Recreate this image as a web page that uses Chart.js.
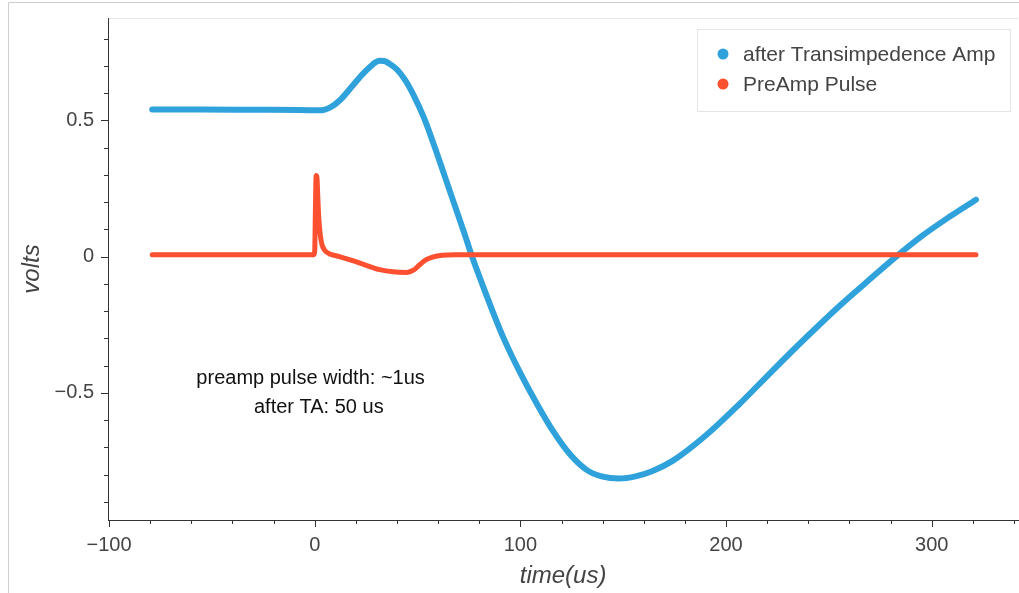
<!DOCTYPE html>
<html>
<head>
<meta charset="utf-8">
<title>Pulse shapes</title>
<script src="https://cdn.jsdelivr.net/npm/chart.js@4"></script>
<style>
  html, body { margin: 0; padding: 0; background: #fff; }
  #wrap { width: 1019px; height: 593px; position: relative; }
</style>
</head>
<body>
<div id="wrap"><canvas id="pulses"></canvas></div>
<script>
// readings: time in us, amplitude in volts
const timeTA = [-79, -55, -30, -7, 2.4, 8, 12.1, 18.5, 23.3, 27.5, 29.5, 31.6, 33.8, 36, 40, 44, 48, 53, 58, 63, 68, 73, 76.5,
  82, 87, 92, 100, 108, 116, 124, 132, 140, 148, 156, 164, 174, 190.4, 206.4, 222.4, 238.9,
  255.0, 271.0, 282.7, 295.3, 308.4, 321.5];
const voltsTA = [0.540, 0.540, 0.539, 0.538, 0.537, 0.550, 0.573, 0.628, 0.670, 0.701, 0.713, 0.719, 0.718, 0.710, 0.687, 0.648, 0.594, 0.512, 0.410, 0.300, 0.190, 0.080, 0.0,
  -0.112, -0.210, -0.302, -0.428, -0.540, -0.642, -0.725, -0.782, -0.808, -0.815, -0.807, -0.788, -0.750, -0.655, -0.542, -0.420, -0.297,
  -0.182, -0.076, 0.0, 0.076, 0.145, 0.209];

const timePre = [-79, -40, -0.4, 0, 0.3, 0.7, 1.1, 1.5, 2.0, 2.7, 3.5, 5, 7.3, 12, 18.5, 25, 31.6, 38, 44.7, 48, 51, 54, 57.3, 62, 68, 100, 200, 321.5];
const voltsPre = [0.007, 0.007, 0.007, 0.02, 0.15, 0.298, 0.29, 0.22, 0.14, 0.08, 0.045, 0.022, 0.010, 0.0, -0.015, -0.032, -0.048, -0.056, -0.058, -0.050, -0.030, -0.012, -0.002, 0.005, 0.007, 0.007, 0.007, 0.007];

const seriesNames = ['after Transimpedence Amp', 'PreAmp Pulse'];
const seriesColors = ['#2fa1db', '#fd5030'];

const noteLines = ['preamp pulse width: ~1us', 'after TA: 50 us'];
const noteX = [-2, 2];
const noteY = [-0.449, -0.555];

const FONT = '"Liberation Sans", Helvetica, Arial, sans-serif';
const INK = '#444';

function toPoints(xs, ys) {
  return xs.map((x, i) => ({ x: x, y: ys[i] }));
}

const isMajor = (v, step) => Math.abs(v / step - Math.round(v / step)) < 1e-6;
const fmt = (v) => {
  const s = String(Math.round(v * 1000) / 1000);
  return s.replace('-', '\u2212');
};

// frame, ticks, legend box and note text
const decorations = {
  id: 'decorations',
  beforeDraw(chart) {
    const { ctx, chartArea: a } = chart;
    ctx.save();
    ctx.strokeStyle = '#cfcfcf';
    ctx.lineWidth = 1;
    ctx.beginPath();
    ctx.moveTo(8.5, 593);
    ctx.lineTo(8.5, 2.5);
    ctx.lineTo(1019, 2.5);
    ctx.stroke();
    ctx.strokeStyle = '#e5e5e5';
    ctx.beginPath();
    ctx.moveTo(a.left, a.top + 0.5);
    ctx.lineTo(a.right, a.top + 0.5);
    ctx.stroke();
    ctx.restore();
  },
  afterDraw(chart) {
    const { ctx, chartArea: a } = chart;
    const xs = chart.scales.x, ys = chart.scales.y;
    ctx.save();
    ctx.strokeStyle = '#333';
    ctx.lineWidth = 1;
    ctx.beginPath();
    xs.ticks.forEach(t => {
      const px = Math.round(xs.getPixelForValue(t.value)) + 0.5;
      const len = isMajor(t.value, 100) ? 7 : 4;
      ctx.moveTo(px, a.bottom);
      ctx.lineTo(px, a.bottom + len);
    });
    ys.ticks.forEach(t => {
      const py = Math.round(ys.getPixelForValue(t.value)) + 0.5;
      const len = isMajor(t.value, 0.5) ? 7 : 4;
      ctx.moveTo(a.left, py);
      ctx.lineTo(a.left - len, py);
    });
    ctx.stroke();

    // legend
    ctx.fillStyle = '#fff';
    ctx.strokeStyle = '#e5e5e5';
    ctx.fillRect(697, 29, 313, 82);
    ctx.strokeRect(697.5, 29.5, 313, 82);
    ctx.font = '21px ' + FONT;
    ctx.textBaseline = 'middle';
    ctx.textAlign = 'left';
    seriesNames.forEach((name, i) => {
      const cy = 54 + i * 30;
      ctx.fillStyle = seriesColors[i];
      ctx.beginPath();
      ctx.arc(723, cy, 5.5, 0, Math.PI * 2);
      ctx.fill();
      ctx.fillStyle = INK;
      ctx.fillText(name, 743, cy + 1);
    });

    // note
    ctx.font = '20px ' + FONT;
    ctx.fillStyle = '#111';
    ctx.textAlign = 'center';
    noteLines.forEach((line, i) => {
      ctx.fillText(line, xs.getPixelForValue(noteX[i]), ys.getPixelForValue(noteY[i]));
    });
    ctx.restore();
  }
};

new Chart(document.getElementById('pulses'), {
  type: 'scatter',
  data: {
    datasets: [
      {
        label: seriesNames[0],
        data: toPoints(timeTA, voltsTA),
        borderColor: seriesColors[0],
        backgroundColor: seriesColors[0],
        borderWidth: 6,
        order: 1
      },
      {
        label: seriesNames[1],
        data: toPoints(timePre, voltsPre),
        borderColor: seriesColors[1],
        backgroundColor: seriesColors[1],
        borderWidth: 5,
        order: 0
      }
    ]
  },
  options: {
    responsive: true,
    maintainAspectRatio: false,
    animation: false,
    layout: { padding: { top: 15, right: 0, left: 0, bottom: 0 } },
    datasets: {
      scatter: {
        showLine: true,
        pointRadius: 0,
        pointHoverRadius: 0,
        cubicInterpolationMode: 'monotone',
        borderCapStyle: 'round',
        borderJoinStyle: 'round'
      }
    },
    plugins: {
      legend: { display: false },
      tooltip: { enabled: false }
    },
    scales: {
      x: {
        type: 'linear',
        min: -100.5,
        max: 342,
        afterFit(scale) { scale.height = 73; },
        grid: { display: true, drawOnChartArea: false, tickLength: 8, tickColor: 'rgba(0,0,0,0)' },
        border: { display: true, color: '#333', width: 1 },
        ticks: {
          stepSize: 20,
          includeBounds: false,
          autoSkip: false,
          maxRotation: 0,
          padding: 5,
          color: INK,
          font: { family: FONT, size: 20 },
          callback: (v) => isMajor(v, 100) ? fmt(v) : ''
        },
        title: {
          display: true,
          text: 'time(us)',
          color: INK,
          font: { family: FONT, size: 24, style: 'italic' },
          padding: { top: 0, bottom: 2 }
        }
      },
      y: {
        type: 'linear',
        min: -0.967,
        max: 0.876,
        afterFit(scale) { scale.width = 108; },
        grid: { display: true, drawOnChartArea: false, tickLength: 8, tickColor: 'rgba(0,0,0,0)' },
        border: { display: true, color: '#333', width: 1 },
        ticks: {
          stepSize: 0.1,
          includeBounds: false,
          autoSkip: false,
          padding: 6,
          color: INK,
          font: { family: FONT, size: 20 },
          callback: (v) => isMajor(v, 0.5) ? fmt(v) : ''
        },
        title: {
          display: true,
          text: 'volts',
          color: INK,
          font: { family: FONT, size: 24, style: 'italic' },
          padding: { top: 18, bottom: 0 }
        }
      }
    }
  },
  plugins: [decorations]
});
</script>
</body>
</html>
